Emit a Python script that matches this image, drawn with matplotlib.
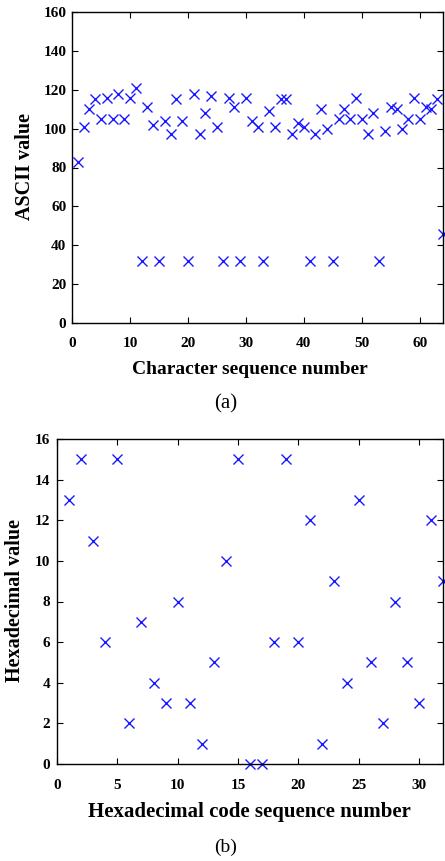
import matplotlib
matplotlib.use('Agg')
import matplotlib.pyplot as plt

# (a) ASCII codes of the message, index 1..64
char_idx = list(range(1, 65))
ascii_vals = [83, 101, 110, 115, 105, 116, 105, 118, 105, 116, 121, 32,
              111, 102, 32, 104, 97, 115, 104, 32, 118, 97, 108, 117, 101, 32,
              116, 111, 32, 116, 104, 101, 32, 109, 101, 115, 115, 97, 103, 101,
              32, 97, 110, 100, 32, 105, 110, 105, 116, 105, 97, 108, 32,
              99, 111, 110, 100, 105, 116, 105, 111, 110, 115, 46]

# (b) hexadecimal digits, index 1..32
hex_idx = list(range(1, 33))
hex_vals = [13, 15, 11, 6, 15, 2, 7, 4, 3, 8, 3, 1, 5, 10, 15, 0,
            0, 6, 15, 6, 12, 1, 9, 4, 13, 5, 2, 8, 5, 3, 12, 9]

W, H = 445, 861
fig = plt.figure(figsize=(W / 100, H / 100), dpi=100)
plt.rcParams['font.family'] = ['Liberation Serif', 'DejaVu Serif']

def px_axes(l, t, r, b):
    return fig.add_axes([l / W, 1 - b / H, (r - l) / W, (b - t) / H])

def txt(x, y, s, **kw):
    return fig.text(x / W, 1 - y / H, s, ha='center', va='center', **kw)

def style(ax, size, xpad, ypad):
    ax.tick_params(direction='in', top=True, right=True, length=4, width=0.8,
                   labelsize=size)
    ax.tick_params(axis='x', pad=xpad)
    ax.tick_params(axis='y', pad=ypad)
    for lab in ax.get_xticklabels() + ax.get_yticklabels():
        lab.set_fontweight('bold')
    for s in ax.spines.values():
        s.set_linewidth(1.0)

mk = dict(marker='x', linestyle='none', color='#1a1aff', markersize=6.5, markeredgewidth=1.0)

ax1 = px_axes(72, 12, 443, 323)
ax1.plot(char_idx, ascii_vals, clip_on=False, **mk)
ax1.set_xlim(0, 64)
ax1.set_ylim(0, 160)
ax1.set_xticks(range(0, 61, 10))
ax1.set_yticks(range(0, 161, 20))
style(ax1, 11, 10, 4)
txt(25, 167, 'ASCII value', rotation=90, fontsize=14.5, fontweight='bold')
txt(250, 369, 'Character sequence number', fontsize=14, fontweight='bold')
txt(226, 404, '(a)', fontsize=15)

ax2 = px_axes(57, 439, 443, 764)
ax2.plot(hex_idx, hex_vals, clip_on=False, **mk)
ax2.set_xlim(0, 32)
ax2.set_ylim(0, 16)
ax2.set_xticks(range(0, 31, 5))
ax2.set_yticks(range(0, 17, 2))
style(ax2, 11, 11, 5)
txt(15, 600, 'Hexadecimal value', rotation=90, fontsize=14.5, fontweight='bold')
txt(249, 812, 'Hexadecimal code sequence number', fontsize=15, fontweight='bold')
txt(226, 847, '(b)', fontsize=14)

fig.savefig('out.png', dpi=100)
